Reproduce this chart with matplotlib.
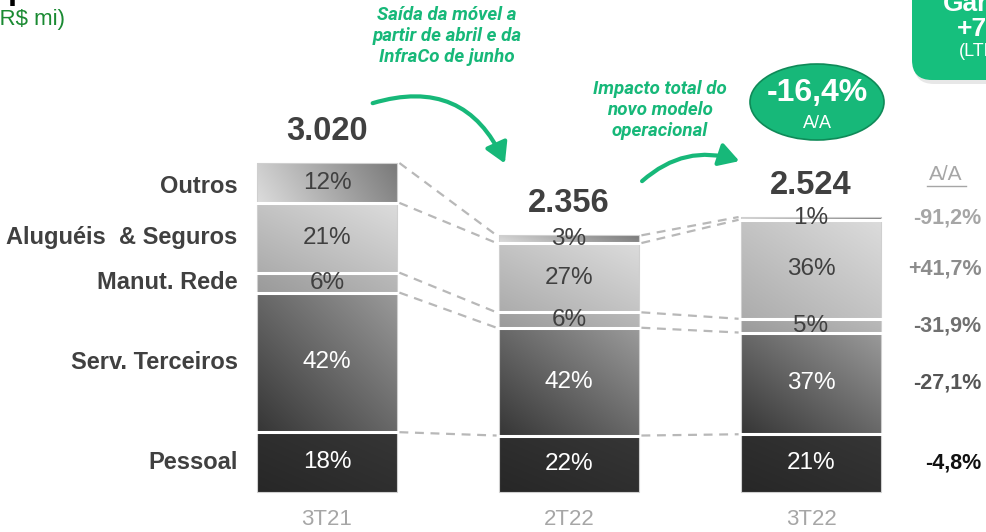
"""Opex breakdown by quarter: stacked bars scaled to totals, with share labels and connectors."""

import matplotlib

matplotlib.use("Agg")
import matplotlib.pyplot as plt
import matplotlib.transforms as mtransforms
from matplotlib.colors import to_rgb
from matplotlib.patches import Ellipse, FancyArrowPatch, FancyBboxPatch, Rectangle
import numpy as np

W, H = 986, 532
DPI = 100
GREEN = "#17b879"
DARK = "#404040"

# data
PERIODS = ["3T21", "2T22", "3T22"]
TOTALS = [3020, 2356, 2524]
CATEGORIES = ["Pessoal", "Serv. Terceiros", "Manut. Rede", "Aluguéis  & Seguros", "Outros"]
SHARE_PESSOAL = [18, 22, 21]
SHARE_TERCEIROS = [42, 42, 37]
SHARE_MANUT = [6, 6, 5]
SHARE_ALUGUEIS = [21, 27, 36]
SHARE_OUTROS = [12, 3, 1]
YOY = ["-4,8%", "-27,1%", "-31,9%", "+41,7%", "-91,2%"]
TOTAL_YOY = "-16,4%"

# styles, bottom -> top
GRADIENTS = [
    ("#272727", "#363636", 0.5),
    ("#363636", "#9a9a9a", 0.5),
    ("#9a9a9a", "#bababa", 0.8),
    ("#acacac", "#dcdcdc", 0.5),
    ("#dcdcdc", "#7a7a7a", 0.85),
]
LABEL_COLORS = ["white", "white", DARK, DARK, DARK]
YOY_COLORS = ["#111111", "#555555", "#707070", "#8c8c8c", "#a6a6a6"]
BAR_WIDTH = 140 / 242

plt.rcParams["font.family"] = ["Liberation Sans", "DejaVu Sans"]


def px(x, y):
    return x, H - y


def gradient(c0, c1, a, n=64):
    u, v = np.meshgrid(np.linspace(0, 1, n), np.linspace(0, 1, n))
    t = a * u + (1 - a) * v
    c0, c1 = np.array(to_rgb(c0)), np.array(to_rgb(c1))
    return c0 + t[..., None] * (c1 - c0)


def main():
    fig = plt.figure(figsize=(W / DPI, H / DPI), dpi=DPI)
    ax = fig.add_axes([0, 0, 1, 1])
    ax.axis("off")
    ident = mtransforms.IdentityTransform()

    shares = np.array([SHARE_PESSOAL, SHARE_TERCEIROS, SHARE_MANUT, SHARE_ALUGUEIS, SHARE_OUTROS], dtype=float)
    totals = np.array(TOTALS, dtype=float)
    heights = shares / shares.sum(axis=0) * totals
    tops = np.cumsum(heights, axis=0)
    bottoms = tops - heights
    x = np.arange(len(PERIODS))
    hw = BAR_WIDTH / 2

    for j in range(len(PERIODS)):
        for i in range(len(CATEGORIES)):
            c0, c1, a = GRADIENTS[i]
            ax.imshow(gradient(c0, c1, a), extent=(x[j] - hw, x[j] + hw, bottoms[i, j], tops[i, j]),
                      origin="lower", aspect="auto", interpolation="bilinear", zorder=2)
            ax.add_patch(Rectangle((x[j] - hw, bottoms[i, j]), BAR_WIDTH, heights[i, j],
                                   fill=False, edgecolor="#cfcfcf", lw=0.8, zorder=3))
            if i > 0:
                ax.plot([x[j] - hw, x[j] + hw], [bottoms[i, j]] * 2, color="white", lw=2.2, zorder=4)
            ax.text(x[j], (bottoms[i, j] + tops[i, j]) / 2, f"{int(shares[i, j])}%",
                    ha="center", va="center", fontsize=17.5, color=LABEL_COLORS[i], zorder=5)
        ax.text(x[j], totals[j] + 290, f"{TOTALS[j]:,}".replace(",", "."), ha="center", va="center",
                fontsize=23.5, fontweight="bold", color=DARK)
        ax.text(x[j], -255, PERIODS[j], ha="center", va="center", fontsize=16, color="#a6a6a6")

    # dashed connectors between bars
    for j in range(len(PERIODS) - 1):
        for i in range(len(CATEGORIES)):
            ax.plot([x[j] + hw + 0.01, x[j + 1] - hw - 0.01], [tops[i, j], tops[i, j + 1]],
                    color="#b8b8b8", lw=1.6, ls=(0, (4, 3)), zorder=1)

    # category labels on the left
    for i, cat in enumerate(CATEGORIES):
        y = (bottoms[i, 0] + tops[i, 0]) / 2
        ax.text(x[0] - hw - 0.08, y - (35 if i == 4 else 0), cat, ha="right", va="center",
                fontsize=17, fontweight="bold", color=DARK)

    # A/A column
    for i, val in enumerate(YOY):
        y = (bottoms[i, 2] + tops[i, 2]) / 2
        ax.text(x[2] + hw + 0.415, y, val, ha="right", va="center", fontsize=15.5,
                fontweight="bold", color=YOY_COLORS[i])
    ax.text(*px(946, 175), "A/A", transform=ident, ha="center", va="center", fontsize=15, color="#a6a6a6")
    ax.plot(*zip(px(927, 186), px(966, 186)), transform=ident, color="#a6a6a6", lw=1)

    ax.set_xlim(-327 / 242, (W - 327) / 242)
    scale = (492 - 163) / TOTALS[0]
    ax.set_ylim(-(H - 492) / scale, 492 / scale)

    # annotations
    ann_font = dict(family="Roboto", fontweight="bold", style="italic", fontsize=13.5, color=GREEN,
                    ha="center", va="center", linespacing=1.22, transform=ident)
    ax.text(*px(447, 36), "Saída da móvel a\npartir de abril e da\nInfraCo de junho", **ann_font)
    ax.text(*px(660, 110), "Impacto total do\nnovo modelo\noperacional", **ann_font)
    for start, end, rad in [((370, 104), (506, 166), -0.45), ((640, 183), (742, 162), -0.3)]:
        ax.add_patch(FancyArrowPatch(px(*start), px(*end), transform=ident,
                                     connectionstyle=f"arc3,rad={rad}",
                                     arrowstyle="-|>,head_length=12,head_width=7",
                                     color=GREEN, lw=3, zorder=6))

    ax.add_patch(Ellipse(px(817, 102), 134, 76, transform=ident, facecolor=GREEN,
                         edgecolor="#0f8a58", lw=1.2, zorder=6))
    ax.text(*px(817, 93), TOTAL_YOY, transform=ident, ha="center", va="center", fontsize=23,
            fontweight="bold", color="white", zorder=7)
    ax.text(*px(817, 124), "A/A", transform=ident, ha="center", va="center", fontsize=13,
            color="white", zorder=7)

    # clipped header elements
    ax.add_patch(FancyBboxPatch(px(914, 84), 120, 130, transform=ident, boxstyle="round,pad=0,rounding_size=20",
                                facecolor="#bbbbbb", edgecolor="none", alpha=0.35, zorder=6))
    ax.add_patch(FancyBboxPatch(px(912, 80), 120, 130, transform=ident, boxstyle="round,pad=0,rounding_size=20",
                                facecolor="#16bf7d", edgecolor="none", zorder=7))
    ax.text(*px(943, 11), "Ganho", transform=ident, ha="left", va="baseline", fontsize=19,
            fontweight="bold", color="white", zorder=8)
    ax.text(*px(957, 36), "+7%", transform=ident, ha="left", va="baseline", fontsize=19,
            fontweight="bold", color="white", zorder=8)
    ax.text(*px(959, 51), "(LTM)", transform=ident, ha="left", va="center", fontsize=13,
            color="white", zorder=8)
    ax.text(*px(-17, -1), "Opex", transform=ident, ha="left", va="baseline", fontsize=24,
            fontweight="bold", color="black")
    ax.text(*px(-8, 20), "(R$ mi)", transform=ident, ha="left", va="center", fontsize=16, color="#1a8a32")

    fig.savefig("out.png", dpi=DPI)
    plt.close(fig)


if __name__ == "__main__":
    main()
